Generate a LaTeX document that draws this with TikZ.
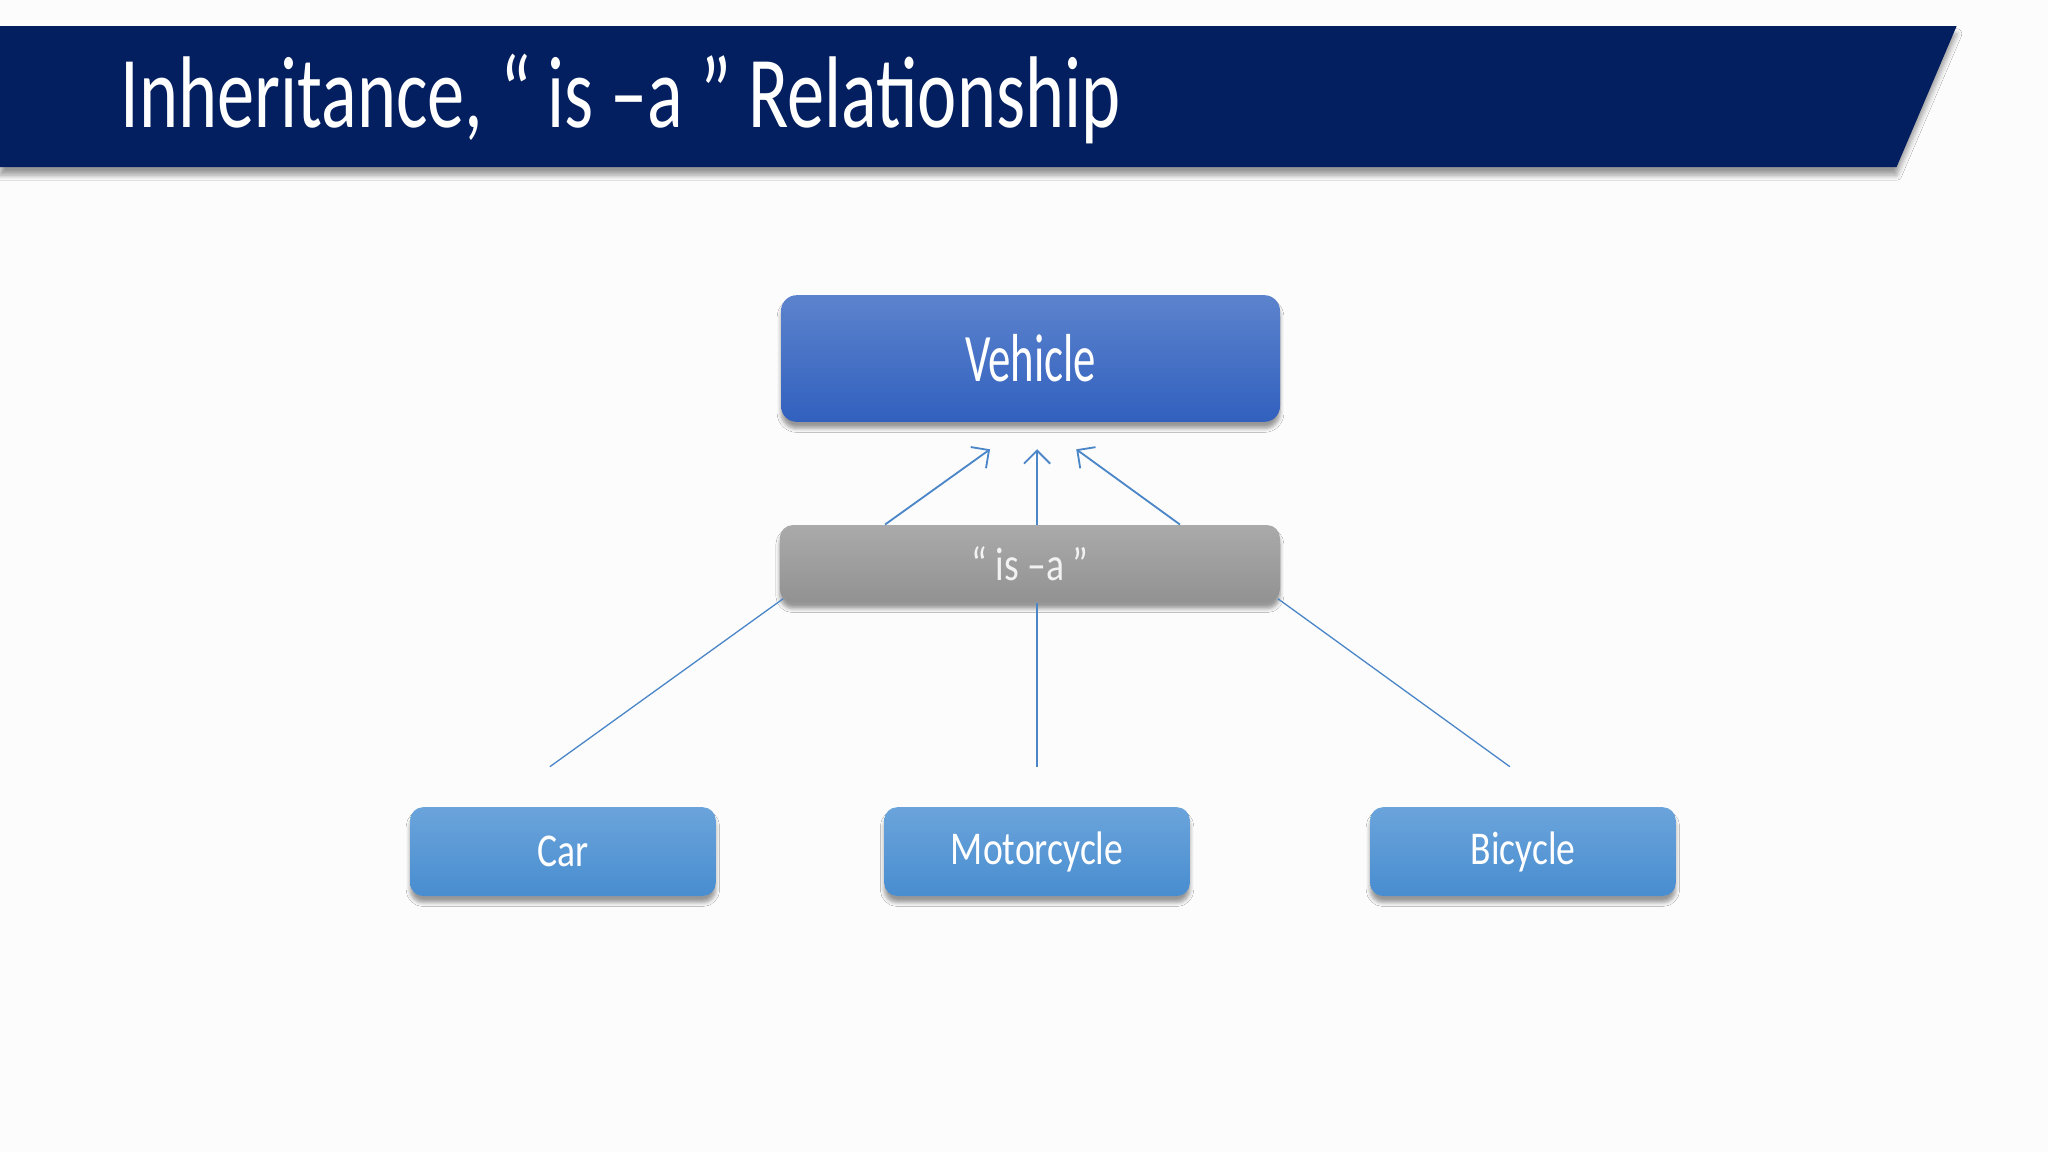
\documentclass[tikz,border=0pt]{standalone}
\usepackage{fontspec}
\setmainfont{Carlito}
\usetikzlibrary{arrows.meta,shadows.blur}
\definecolor{navy}{HTML}{031F60}
\definecolor{linkblue}{HTML}{4A86C8}
\definecolor{vtop}{HTML}{5C83CD}
\definecolor{vbot}{HTML}{3160BE}
\definecolor{ctop}{HTML}{6BA4DB}
\definecolor{cbot}{HTML}{488DD0}
\definecolor{gtop}{HTML}{AAAAAA}
\definecolor{gbot}{HTML}{929292}
\tikzset{
  box/.style={rounded corners=6pt, inner sep=0pt, text=white,
    blur shadow={shadow xshift=0pt, shadow yshift=-2.5pt, shadow blur steps=5, shadow opacity=40, shadow blur radius=1.5pt}},
  parentbox/.style={box, top color=vtop, bottom color=vbot, minimum width=191pt, minimum height=48.5pt, font=\fontsize{26}{30}\selectfont},
  isabox/.style={box, rounded corners=5pt, top color=gtop, bottom color=gbot, minimum width=191.5pt, minimum height=29.5pt, text=white!90!gray, font=\fontsize{18}{22}\selectfont},
  childbox/.style={box, rounded corners=5pt, top color=ctop, bottom color=cbot, minimum width=117pt, minimum height=34pt, font=\fontsize{18}{22}\selectfont},
  uparrow/.style={draw=linkblue, line width=0.7pt, -{Straight Barb[length=5pt,width=10pt,line width=0.7pt]}},
  downline/.style={draw=linkblue, line width=0.5pt},
}
\begin{document}
\begin{tikzpicture}[x=0.5pt,y=-0.5pt]
\useasboundingbox (0,0) rectangle (1568,882);
\fill[white!98!gray] (0,0) rectangle (1568,882);
% banner
\fill[navy, blur shadow={shadow xshift=0pt, shadow yshift=-3pt, shadow blur steps=5, shadow opacity=40, shadow blur radius=2pt}]
  (0,20) -- (1498,20) -- (1452,128) -- (0,128) -- cycle;
\node[anchor=base west, inner sep=0pt, text=white, font=\fontsize{39}{44}\selectfont] (title) at (92,98)
  {\scalebox{0.73}[1]{Inheritance, “ is –a ” Relationship}};
% boxes
\node[parentbox] (vehicle) at (789,274.5) {\scalebox{0.66}[1]{Vehicle}};
\node[isabox] (isa) at (788.5,431.5) {\scalebox{0.8}[1]{“ is –a ”}};
\node[childbox] (car) at (431,652) {\scalebox{0.8}[1]{Car}};
\node[childbox] (moto) at (794,652) {\scalebox{0.8}[1]{Motorcycle}};
\node[childbox] (bike) at (1166,652) {\scalebox{0.8}[1]{Bicycle}};
% arrow tips and line ends
\coordinate (t1) at (758,344);
\coordinate (t2) at (794,344);
\coordinate (t3) at (824,344);
\coordinate (e1) at (421,587);
\coordinate (e2) at (794,587);
\coordinate (e3) at (1156,587);
\draw[uparrow] ([xshift=40.5pt]isa.north west) -- (t1);
\draw[uparrow] ([xshift=2.75pt]isa.north) -- (t2);
\draw[uparrow] ([xshift=-38.5pt]isa.north east) -- (t3);
\draw[downline] ([xshift=1.5pt,yshift=1.5pt]isa.south west) -- (e1);
\draw[downline] ([xshift=2.75pt]isa.south) -- (e2);
\draw[downline] ([xshift=-1pt,yshift=1.5pt]isa.south east) -- (e3);
\end{tikzpicture}
\end{document}
